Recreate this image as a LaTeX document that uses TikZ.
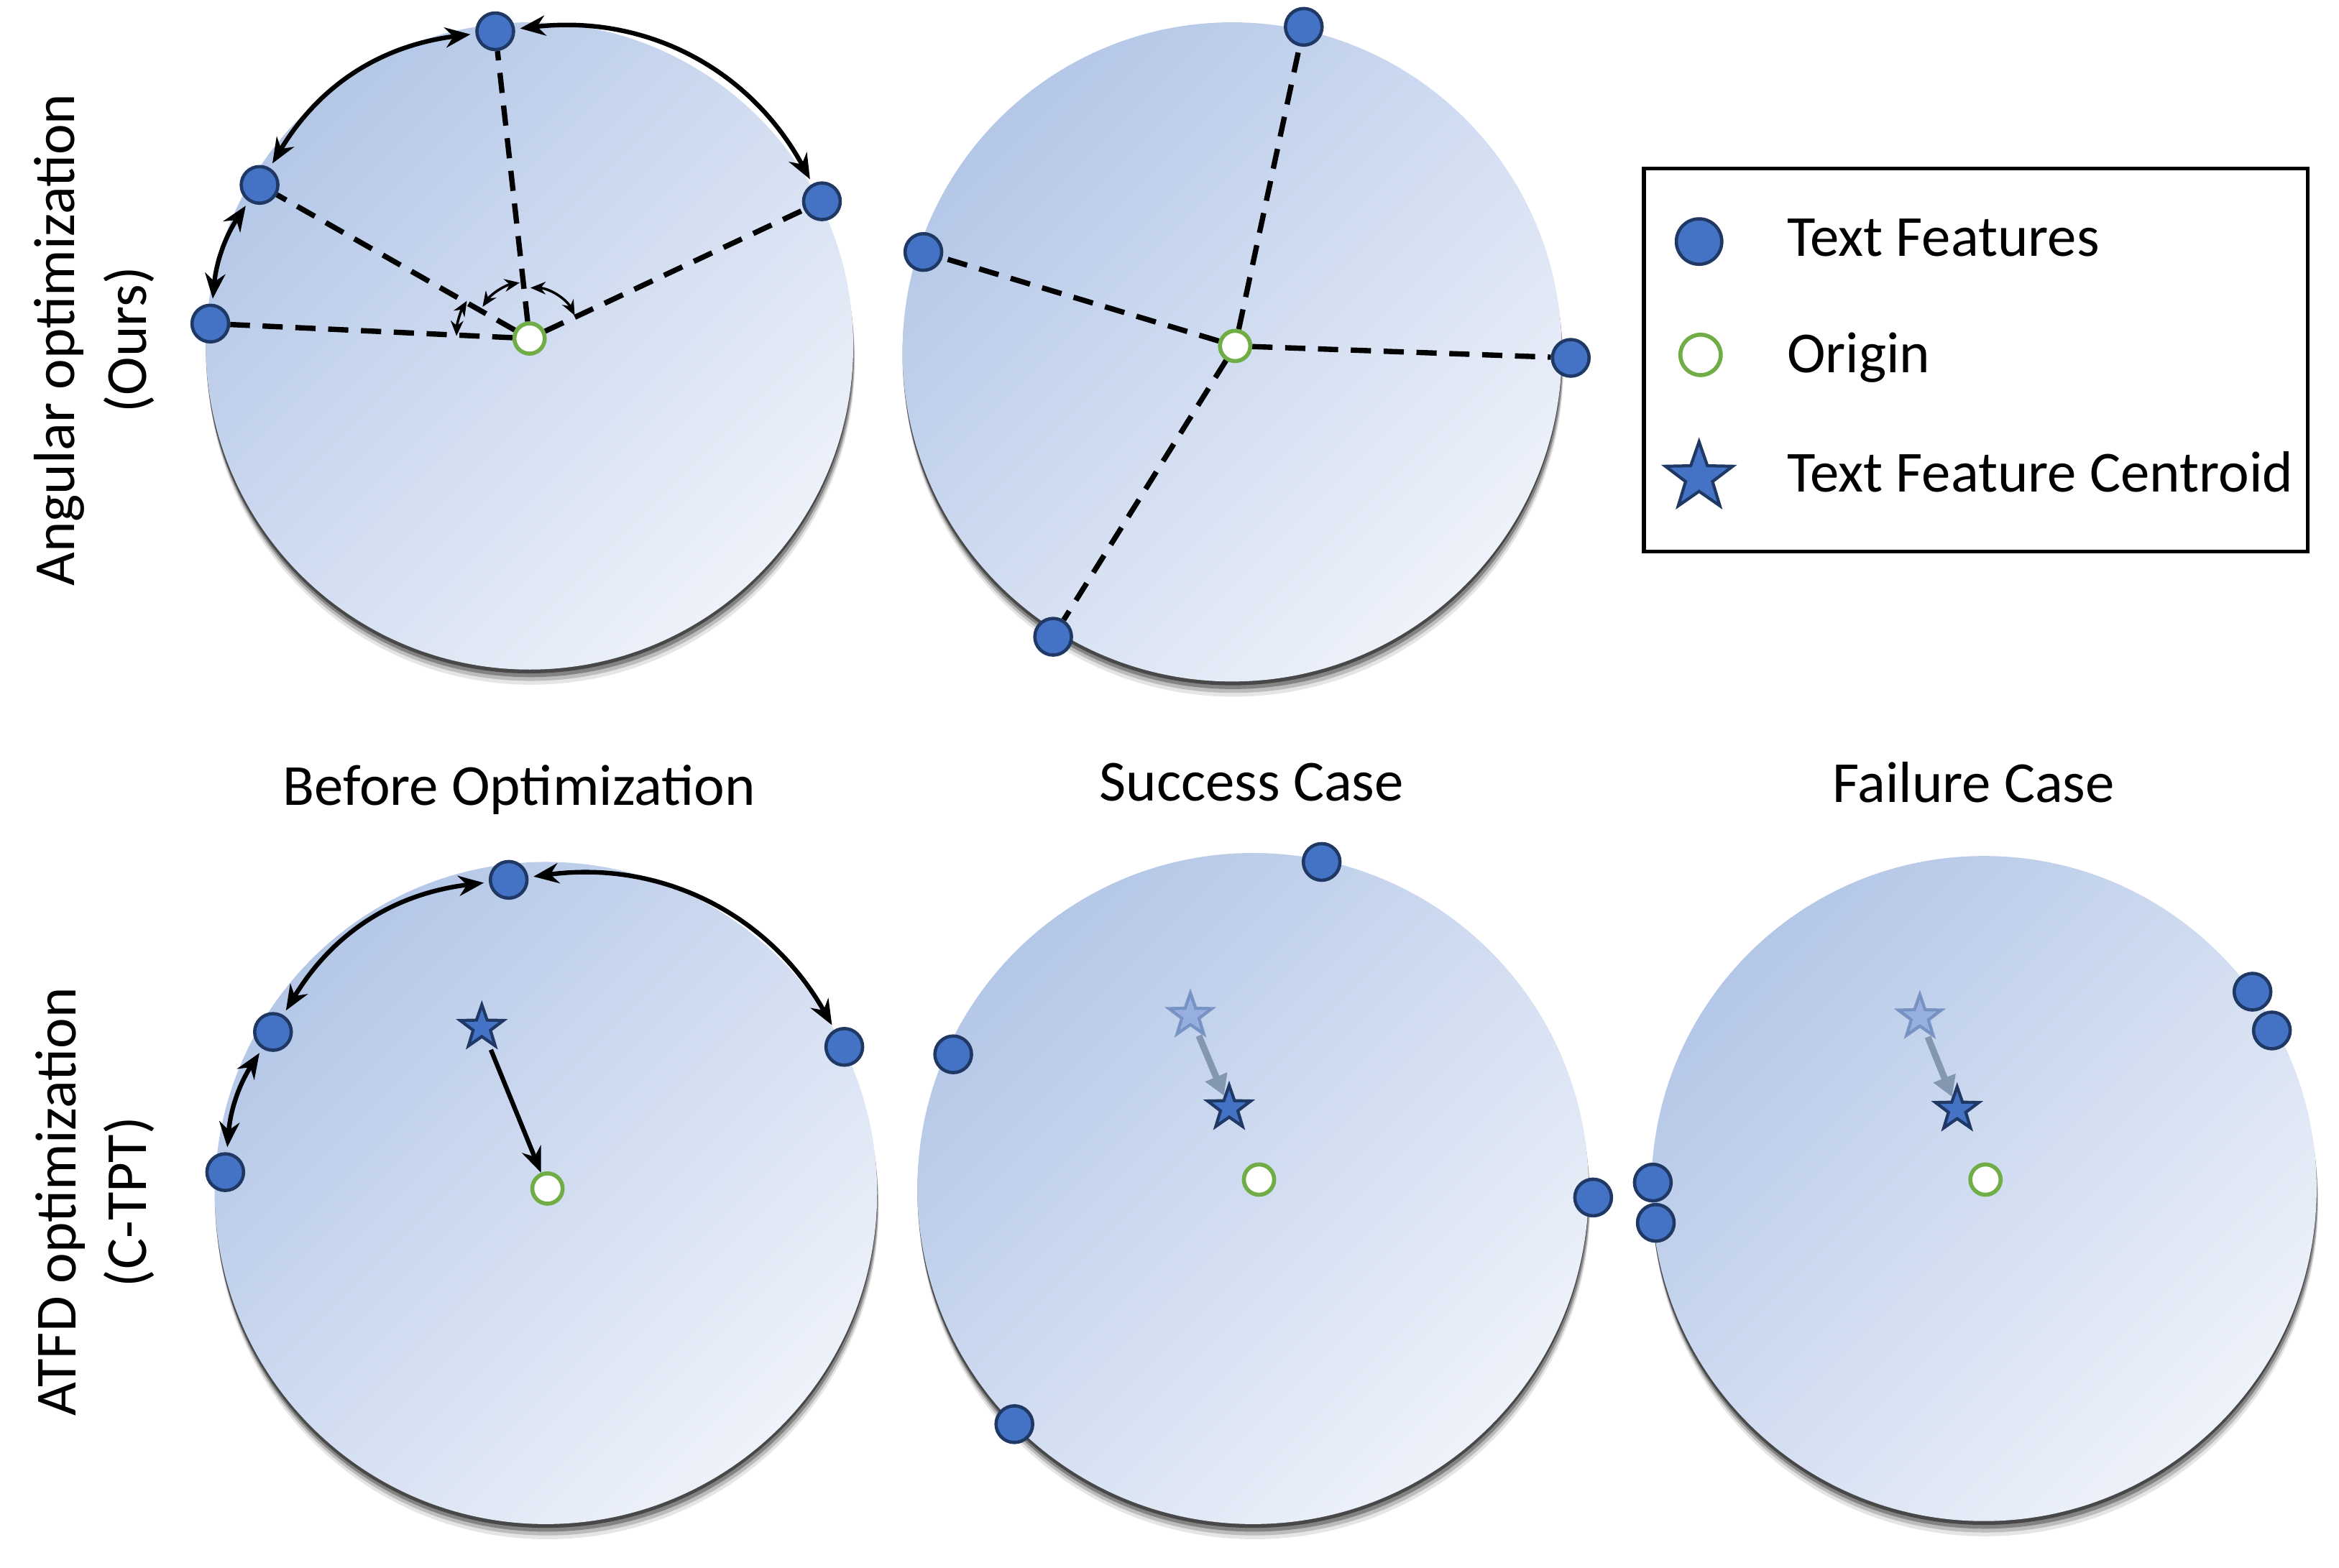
\documentclass[tikz,border=0pt]{standalone}
\usepackage{fontspec}
\setmainfont{Carlito}
\usetikzlibrary{arrows.meta,shapes.geometric}

\definecolor{diskTop}{HTML}{B4C7E7}
\definecolor{diskBot}{HTML}{EEF2FA}
\definecolor{featBlue}{HTML}{4472C4}
\definecolor{featEdge}{HTML}{1F3864}
\definecolor{originGreen}{HTML}{70AD47}
\definecolor{oldStar}{HTML}{8FAADC}
\definecolor{oldEdge}{HTML}{6F8BBF}
\definecolor{moveGray}{HTML}{8497B0}

\tikzset{
  disk/.style={
    preaction={fill=black, opacity=.10, transform canvas={xshift=.6pt, yshift=-6pt}},
    preaction={fill=black, opacity=.18, transform canvas={xshift=.5pt, yshift=-4.5pt}},
    preaction={fill=black, opacity=.30, transform canvas={xshift=.3pt, yshift=-3pt}},
    preaction={fill=black, opacity=.45, transform canvas={yshift=-1.5pt}},
    shading=axis, top color=diskTop, bottom color=diskBot, shading angle=45},
  feat/.style={circle, fill=featBlue, draw=featEdge, line width=1.3pt, minimum size=14.5pt, inner sep=0pt},
  originpt/.style={circle, fill=white, draw=originGreen, line width=1.6pt, minimum size=12pt, inner sep=0pt},
  centroid/.style={star, star points=5, star point ratio=2.5, fill=featBlue, draw=featEdge, line width=1.2pt, minimum size=18pt, inner sep=0pt},
  oldcentroid/.style={centroid, fill=oldStar, draw=oldEdge, opacity=.85},
  ray/.style={line width=2.1pt, dash pattern=on 8pt off 5pt},
  span/.style={{Stealth[length=10pt,width=8pt]}-{Stealth[length=10pt,width=8pt]}, line width=1.8pt, shorten <=2pt, shorten >=2pt},
  tick/.style={{Stealth[length=6pt,width=5pt]}-{Stealth[length=6pt,width=5pt]}, line width=1pt},
  pull/.style={-{Stealth[length=10pt,width=8pt]}, line width=1.8pt, shorten <=3pt},
  drift/.style={-{Triangle[length=8pt,width=9pt]}, line width=2.6pt, draw=moveGray, shorten <=2pt},
  lbl/.style={font=\fontsize{23}{28}\selectfont},
}

\begin{document}
\begin{tikzpicture}[x=0.2075mm, y=0.2075mm]
  \useasboundingbox (0,0) rectangle (1568,1051);

  % disks
  \coordinate (cA) at (355,819);
  \coordinate (cB) at (826,815);
  \coordinate (cC) at (366,251);
  \coordinate (cD) at (840,254);
  \coordinate (cE) at (1330,254);
  \path[disk] (cA) circle[radius=217];
  \path[disk] (cB) circle[radius=221];
  \path[disk] (cC) circle[radius=222];
  \path[disk] (cD) circle[radius=225];
  \path[disk] (cE) circle[radius=223];

  % row labels
  \node[lbl, rotate=90, anchor=base] (rowA) at (50,823) {Angular optimization};
  \node[lbl, rotate=90, anchor=base] (rowAs) at (98,823) {(Ours)};
  \node[lbl, rotate=90, anchor=base] (rowC) at (51,245) {ATFD optimization};
  \node[lbl, rotate=90, anchor=base] (rowCs) at (98,245) {(C-TPT)};

  % angular: before
  \node[originpt] (aO) at (355,824) {};
  \node[feat] (aT) at (332,1030) {};
  \node[feat] (aUL) at (174,927) {};
  \node[feat] (aL) at (141,834) {};
  \node[feat] (aR) at (551,916) {};
  \foreach \p in {aT,aUL,aL,aR}
    \draw[ray] (aO) -- (\p);
  \draw[span] (aL) to[bend left=14] (aUL);
  \draw[span] (aUL) to[bend left=26] (aT);
  \draw[span] (aT) to[bend left=34] (aR);
  \draw[tick] ([shift={(178:49)}]aO.center) arc[start angle=178, end angle=149, radius=49];
  \draw[tick] ([shift={(146:38)}]aO.center) arc[start angle=146, end angle=100, radius=38];
  \draw[tick] ([shift={(89:34)}]aO.center) arc[start angle=89, end angle=27, radius=34];

  % angular: after
  \node[originpt] (bO) at (828,819) {};
  \node[feat] (bT) at (874,1033) {};
  \node[feat] (bL) at (619,882) {};
  \node[feat] (bR) at (1053,811) {};
  \node[feat] (bBL) at (706,624) {};
  \foreach \p in {bT,bL,bR,bBL}
    \draw[ray] (bO) -- (\p);

  % legend
  \draw[line width=1.5pt] (1102,938) rectangle (1547,681);
  \node[feat, minimum size=18pt] (kFeat) at (1139,889) {};
  \node[lbl, anchor=base west] (kFeatT) at (1192,879) {Text Features};
  \node[originpt, minimum size=16pt] (kOrig) at (1140,813) {};
  \node[lbl, anchor=base west] (kOrigT) at (1192,801) {Origin};
  \node[centroid, minimum size=28pt] (kCent) at (1139,731) {};
  \node[lbl, anchor=base west] (kCentT) at (1192,721) {Text Feature Centroid};

  % titles
  \node[lbl, anchor=base] (tC) at (348,511) {Before Optimization};
  \node[lbl, anchor=base] (tD) at (839,514) {Success Case};
  \node[lbl, anchor=base] (tE) at (1323,513) {Failure Case};

  % ATFD: before
  \node[originpt] (cO) at (367,254) {};
  \node[feat] (cT) at (341,461) {};
  \node[feat] (cUL) at (183,359) {};
  \node[feat] (cL) at (151,265) {};
  \node[feat] (cR) at (566,349) {};
  \node[centroid] (cS) at (323,362) {};
  \draw[span] (cL) to[bend left=14] (cUL);
  \draw[span] (cUL) to[bend left=26] (cT);
  \draw[span] (cT) to[bend left=34] (cR);
  \draw[pull] (cS) -- (cO);

  % ATFD: success
  \node[originpt] (dO) at (844,260) {};
  \node[feat] (dT) at (886,473) {};
  \node[feat] (dL) at (639,344) {};
  \node[feat] (dR) at (1068,248) {};
  \node[feat] (dBL) at (680,96) {};
  \node[oldcentroid] (dS0) at (798,370) {};
  \node[centroid] (dS) at (824,308) {};
  \draw[drift] (dS0) -- (dS);

  % ATFD: failure
  \node[originpt] (eO) at (1331,260) {};
  \node[feat] (eR1) at (1510,386) {};
  \node[feat] (eR2) at (1523,360) {};
  \node[feat] (eL1) at (1108,258) {};
  \node[feat] (eL2) at (1110,231) {};
  \node[oldcentroid] (eS0) at (1287,369) {};
  \node[centroid] (eS) at (1312,307) {};
  \draw[drift] (eS0) -- (eS);
\end{tikzpicture}
\end{document}
